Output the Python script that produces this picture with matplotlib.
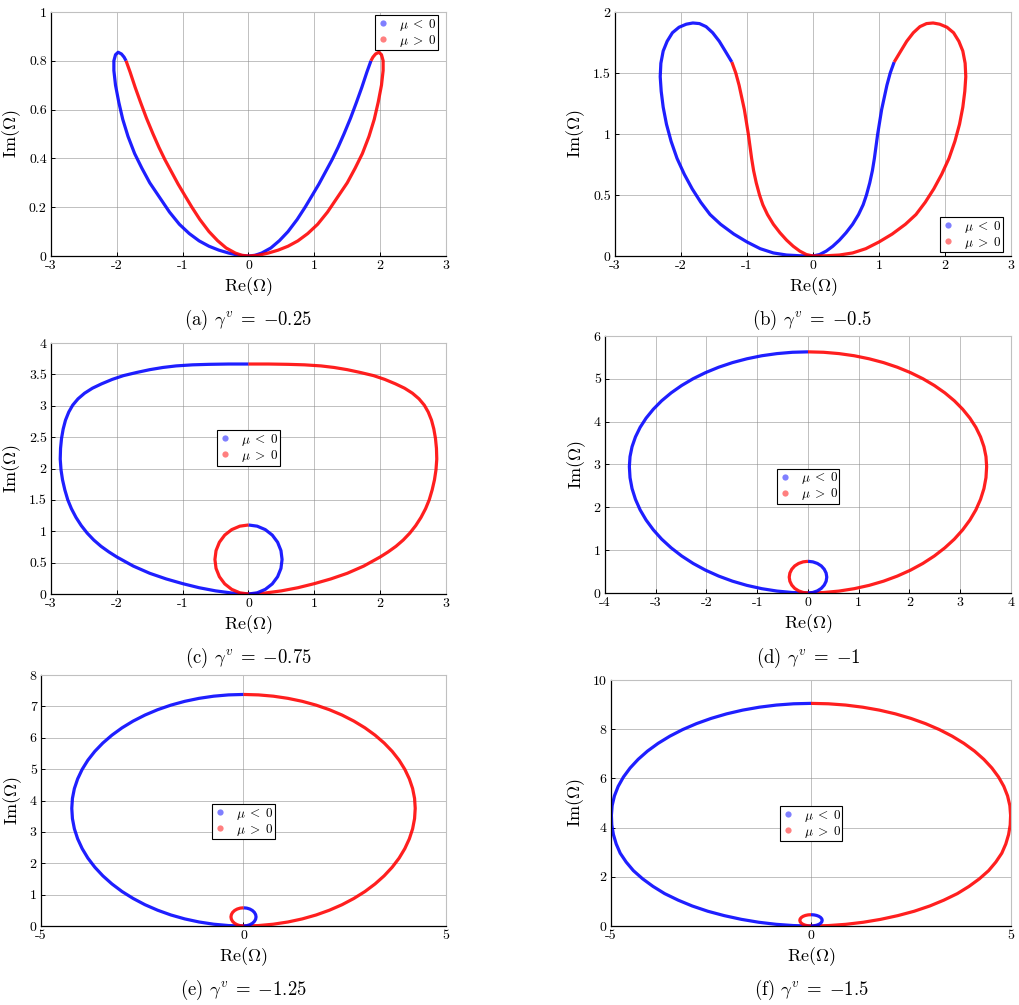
import matplotlib.pyplot as plt
from matplotlib.lines import Line2D
from matplotlib.ticker import FormatStrFormatter

plt.rcParams['font.family'] = 'serif'
plt.rcParams['font.serif'] = ['cmr10', 'DejaVu Serif']
plt.rcParams['mathtext.fontset'] = 'cm'
plt.rcParams['axes.unicode_minus'] = False
plt.rcParams['axes.formatter.use_mathtext'] = True

# (a) gamma = -0.25 : left lobe, outer branch (mu<0) and inner branch (mu>0)
a_out_re = [0, -0.15, -0.3, -0.45, -0.6, -0.75, -0.9, -1.05, -1.2, -1.35, -1.5, -1.62, -1.73, -1.83,
            -1.91, -1.97, -2.02, -2.045, -2.045, -2.02, -1.98, -1.93, -1.89, -1.86]
a_out_im = [0, 0.003, 0.012, 0.024, 0.04, 0.062, 0.092, 0.13, 0.18, 0.24, 0.30, 0.36, 0.42, 0.49,
            0.56, 0.63, 0.70, 0.76, 0.80, 0.825, 0.835, 0.828, 0.815, 0.80]
a_in_re = [-1.86, -1.8, -1.72, -1.64, -1.55, -1.45, -1.36, -1.27, -1.17, -1.07, -0.96, -0.86, -0.74,
           -0.6, -0.47, -0.34, -0.2, -0.1, 0]
a_in_im = [0.80, 0.755, 0.69, 0.63, 0.565, 0.50, 0.445, 0.395, 0.345, 0.295, 0.245, 0.20, 0.15,
           0.10, 0.063, 0.033, 0.012, 0.003, 0]

# (b) gamma = -0.5
b_out_re = [0, -0.2, -0.4, -0.6, -0.8, -1.0, -1.2, -1.4, -1.56, -1.7, -1.83, -1.95, -2.06, -2.15, -2.22,
            -2.27, -2.30, -2.315, -2.305, -2.27, -2.21, -2.13, -2.03, -1.92, -1.82, -1.72, -1.62, -1.52,
            -1.42, -1.33, -1.23]
b_out_im = [0, 0.002, 0.008, 0.025, 0.06, 0.115, 0.18, 0.26, 0.34, 0.44, 0.55, 0.67, 0.8, 0.94, 1.08,
            1.22, 1.35, 1.47, 1.58, 1.68, 1.76, 1.83, 1.875, 1.9, 1.91, 1.905, 1.88, 1.83,
            1.76, 1.68, 1.59]
b_in_re = [-1.23, -1.17, -1.12, -1.08, -1.04, -1.01, -0.98, -0.955, -0.93, -0.9, -0.86, -0.81, -0.76,
           -0.69, -0.6, -0.5, -0.4, -0.3, -0.2, -0.1, 0]
b_in_im = [1.59, 1.5, 1.4, 1.3, 1.2, 1.1, 1.0, 0.9, 0.8, 0.7, 0.6, 0.5, 0.42,
           0.34, 0.26, 0.19, 0.13, 0.08, 0.04, 0.012, 0]

# (c) gamma = -0.75 : big loop left half (mu<0), small loop right half (mu<0)
c_big_re = [0, -0.25, -0.5, -0.75, -1.0, -1.25, -1.5, -1.75, -2.0, -2.12, -2.24, -2.35, -2.45, -2.54,
            -2.62, -2.69, -2.745, -2.79, -2.825, -2.848, -2.86, -2.855, -2.84, -2.815, -2.78, -2.73,
            -2.67, -2.59, -2.49, -2.37, -2.23, -2.07, -1.9, -1.7, -1.5, -1.3, -1.1, -0.85, -0.6, -0.3, 0]
c_big_im = [0, 0.015, 0.05, 0.10, 0.165, 0.24, 0.33, 0.445, 0.59, 0.67, 0.76, 0.86, 0.97, 1.09,
            1.22, 1.36, 1.5, 1.66, 1.82, 1.98, 2.15, 2.32, 2.48, 2.63, 2.77, 2.90,
            3.01, 3.11, 3.20, 3.28, 3.35, 3.42, 3.48, 3.53, 3.575, 3.61, 3.635, 3.652, 3.66, 3.665, 3.665]
c_small_re = [0, 0.132, 0.255, 0.361, 0.442, 0.493, 0.51, 0.493, 0.442, 0.361, 0.255, 0.132, 0]
c_small_im = [0, 0.019, 0.074, 0.161, 0.275, 0.408, 0.55, 0.692, 0.825, 0.939, 1.026, 1.081, 1.10]

# (d) gamma = -1
d_big_re = [0, -0.307, -0.611, -0.911, -1.204, -1.488, -1.76, -2.019, -2.263, -2.489, -2.696, -2.884,
            -3.048, -3.19, -3.308, -3.40, -3.467, -3.507, -3.52, -3.507, -3.467, -3.40, -3.308, -3.19,
            -3.048, -2.884, -2.696, -2.489, -2.263, -2.019, -1.76, -1.488, -1.204, -0.911, -0.611,
            -0.307, 0]
d_big_im = [0, 0.011, 0.045, 0.101, 0.178, 0.276, 0.395, 0.533, 0.69, 0.864, 1.054, 1.258,
            1.475, 1.703, 1.941, 2.187, 2.438, 2.693, 2.95, 3.184, 3.415, 3.644, 3.867, 4.083,
            4.29, 4.487, 4.673, 4.845, 5.003, 5.145, 5.271, 5.379, 5.468, 5.539, 5.589,
            5.62, 5.63]
d_small_re = [0, 0.096, 0.185, 0.262, 0.320, 0.357, 0.37, 0.357, 0.320, 0.262, 0.185, 0.096, 0]
d_small_im = [0, 0.013, 0.050, 0.108, 0.185, 0.274, 0.37, 0.466, 0.555, 0.632, 0.690, 0.727, 0.74]

# (e) gamma = -1.25
e_big_re = [0, -0.37, -0.736, -1.097, -1.45, -1.792, -2.12, -2.432, -2.725, -2.998, -3.248, -3.473,
            -3.672, -3.843, -3.984, -4.095, -4.176, -4.224, -4.24, -4.224, -4.176, -4.095, -3.984,
            -3.843, -3.672, -3.473, -3.248, -2.998, -2.725, -2.432, -2.12, -1.792, -1.45, -1.097,
            -0.736, -0.37, 0]
e_big_im = [0, 0.014, 0.057, 0.128, 0.226, 0.351, 0.503, 0.678, 0.878, 1.098, 1.34, 1.599,
            1.875, 2.165, 2.468, 2.779, 3.099, 3.423, 3.75, 4.067, 4.38, 4.689, 4.991,
            5.284, 5.565, 5.832, 6.083, 6.317, 6.531, 6.724, 6.894, 7.04, 7.161, 7.256,
            7.325, 7.366, 7.38]
e_small_re = [0, 0.080, 0.155, 0.219, 0.268, 0.299, 0.31, 0.299, 0.268, 0.219, 0.155, 0.080, 0]
e_small_im = [0, 0.010, 0.039, 0.085, 0.145, 0.215, 0.29, 0.365, 0.435, 0.495, 0.541, 0.570, 0.58]

# (f) gamma = -1.5
f_big_re = [0, -0.435, -0.87, -1.31, -1.74, -2.17, -2.58, -2.97, -3.32, -3.66, -3.95, -4.21, -4.44,
            -4.62, -4.77, -4.87, -4.94, -4.98, -4.99, -4.971, -4.914, -4.82, -4.689, -4.522, -4.321,
            -4.088, -3.822, -3.528, -3.208, -2.862, -2.495, -2.109, -1.707, -1.291, -0.867, -0.435, 0]
f_big_im = [0, 0.017, 0.068, 0.153, 0.27, 0.422, 0.60, 0.814, 1.05, 1.318, 1.61, 1.919, 2.25,
            2.598, 2.96, 3.335, 3.72, 4.108, 4.5, 4.897, 5.29, 5.678, 6.056, 6.423, 6.775,
            7.11, 7.425, 7.717, 7.985, 8.227, 8.44, 8.624, 8.776, 8.895, 8.981, 9.033, 9.05]
f_small_re = [0, 0.073, 0.14, 0.198, 0.242, 0.270, 0.28, 0.270, 0.242, 0.198, 0.14, 0.073, 0]
f_small_im = [0, 0.008, 0.031, 0.067, 0.115, 0.170, 0.23, 0.290, 0.345, 0.393, 0.429, 0.452, 0.46]

captions = [r'(a) $\gamma^v\;=\;{-0.25}$', r'(b) $\gamma^v\;=\;{-0.5}$', r'(c) $\gamma^v\;=\;{-0.75}$',
            r'(d) $\gamma^v\;=\;{-1}$', r'(e) $\gamma^v\;=\;{-1.25}$', r'(f) $\gamma^v\;=\;{-1.5}$']

BLUE = (0.0, 0.0, 1.0)
RED = (1.0, 0.0, 0.0)
W, H = 1020, 1005

fig = plt.figure(figsize=(W / 100, H / 100), dpi=100)


def neg(v):
    return [-x for x in v]


def make_axes(box, xlim, ylim, xticks, yticks, cap, cap_xy, leg_loc, leg_xy):
    l, t, r, b = box
    ax = fig.add_axes([l / W, 1 - b / H, (r - l) / W, (b - t) / H])
    ax.set_xlim(xlim)
    ax.set_ylim(ylim)
    ax.set_xticks(xticks)
    ax.set_yticks(yticks)
    ax.xaxis.set_major_formatter(FormatStrFormatter('%g'))
    ax.yaxis.set_major_formatter(FormatStrFormatter('%g'))
    ax.grid(True, color='#8c8c8c', lw=0.7, alpha=0.55)
    ax.set_axisbelow(True)
    ax.tick_params(direction='in', length=3, width=0.7, labelsize=10, pad=3)
    for s in ['left', 'bottom']:
        ax.spines[s].set_color('black')
        ax.spines[s].set_linewidth(0.9)
    for s in ['top', 'right']:
        ax.spines[s].set_color('#c0c0c0')
        ax.spines[s].set_linewidth(0.8)
    ax.set_xlabel(r'$\mathrm{Re}(\Omega)$', fontsize=13, labelpad=2)
    ax.set_ylabel(r'$\mathrm{Im}(\Omega)$', fontsize=13, labelpad=4)
    handles = [Line2D([], [], ls='none', marker='o', ms=4.5, mew=0, color=BLUE, alpha=0.5, label=r'$\mu\;<\;0$'),
               Line2D([], [], ls='none', marker='o', ms=4.5, mew=0, color=RED, alpha=0.5, label=r'$\mu\;>\;0$')]
    leg = ax.legend(handles=handles, loc=leg_loc, bbox_to_anchor=leg_xy, fancybox=False,
                    edgecolor='black', framealpha=1, fontsize=9.5, handlelength=1.0,
                    handletextpad=0.7, borderpad=0.12, labelspacing=0.0, borderaxespad=0)
    leg.get_frame().set_linewidth(0.8)
    fig.text(cap_xy[0] / W, 1 - cap_xy[1] / H, cap, ha='center', va='center', fontsize=13.5)
    return ax


def draw(ax, segs):
    for re, im, col in segs:
        ax.plot(re, im, color=col, lw=2.3, alpha=0.88, solid_capstyle='butt', solid_joinstyle='round')


# (a)
ax = make_axes((51, 12, 446, 256), (-3, 3), (0, 1), range(-3, 4), [0, 0.2, 0.4, 0.6, 0.8, 1],
               captions[0], (248, 320), 'upper right', (0.98, 0.988))
draw(ax, [(a_out_re, a_out_im, BLUE), (neg(a_in_re), a_in_im, BLUE),
          (a_in_re, a_in_im, RED), (neg(a_out_re), a_out_im, RED)])

# (b)
ax = make_axes((615, 12, 1011, 256), (-3, 3), (0, 2), range(-3, 4), [0, 0.5, 1, 1.5, 2],
               captions[1], (812, 320), 'lower right', (0.98, 0.016))
draw(ax, [(b_out_re, b_out_im, BLUE), (neg(b_in_re), b_in_im, BLUE),
          (b_in_re, b_in_im, RED), (neg(b_out_re), b_out_im, RED)])

# (c)
ax = make_axes((51, 343, 446, 594), (-3, 3), (0, 4), range(-3, 4), [0, 0.5, 1, 1.5, 2, 2.5, 3, 3.5, 4],
               captions[2], (248, 658), 'center', (0.5, 0.582))
draw(ax, [(c_big_re, c_big_im, BLUE), (neg(c_big_re), c_big_im, RED),
          (c_small_re, c_small_im, BLUE), (neg(c_small_re), c_small_im, RED)])

# (d)
ax = make_axes((605, 336, 1011, 593), (-4, 4), (0, 6), range(-4, 5), range(0, 7),
               captions[3], (808, 658), 'center', (0.5, 0.415))
draw(ax, [(d_big_re, d_big_im, BLUE), (neg(d_big_re), d_big_im, RED),
          (d_small_re, d_small_im, BLUE), (neg(d_small_re), d_small_im, RED)])

# (e)
ax = make_axes((41, 675, 446, 926), (-5, 5), (0, 8), [-5, 0, 5], range(0, 9),
               captions[4], (243, 990), 'center', (0.5, 0.415))
draw(ax, [(e_big_re, e_big_im, BLUE), (neg(e_big_re), e_big_im, RED),
          (e_small_re, e_small_im, BLUE), (neg(e_small_re), e_small_im, RED)])

# (f)
ax = make_axes((611, 680, 1011, 926), (-5, 5), (0, 10), [-5, 0, 5], range(0, 11, 2),
               captions[5], (811, 990), 'center', (0.5, 0.415))
draw(ax, [(f_big_re, f_big_im, BLUE), (neg(f_big_re), f_big_im, RED),
          (f_small_re, f_small_im, BLUE), (neg(f_small_re), f_small_im, RED)])

fig.savefig('out.png', dpi=100)
